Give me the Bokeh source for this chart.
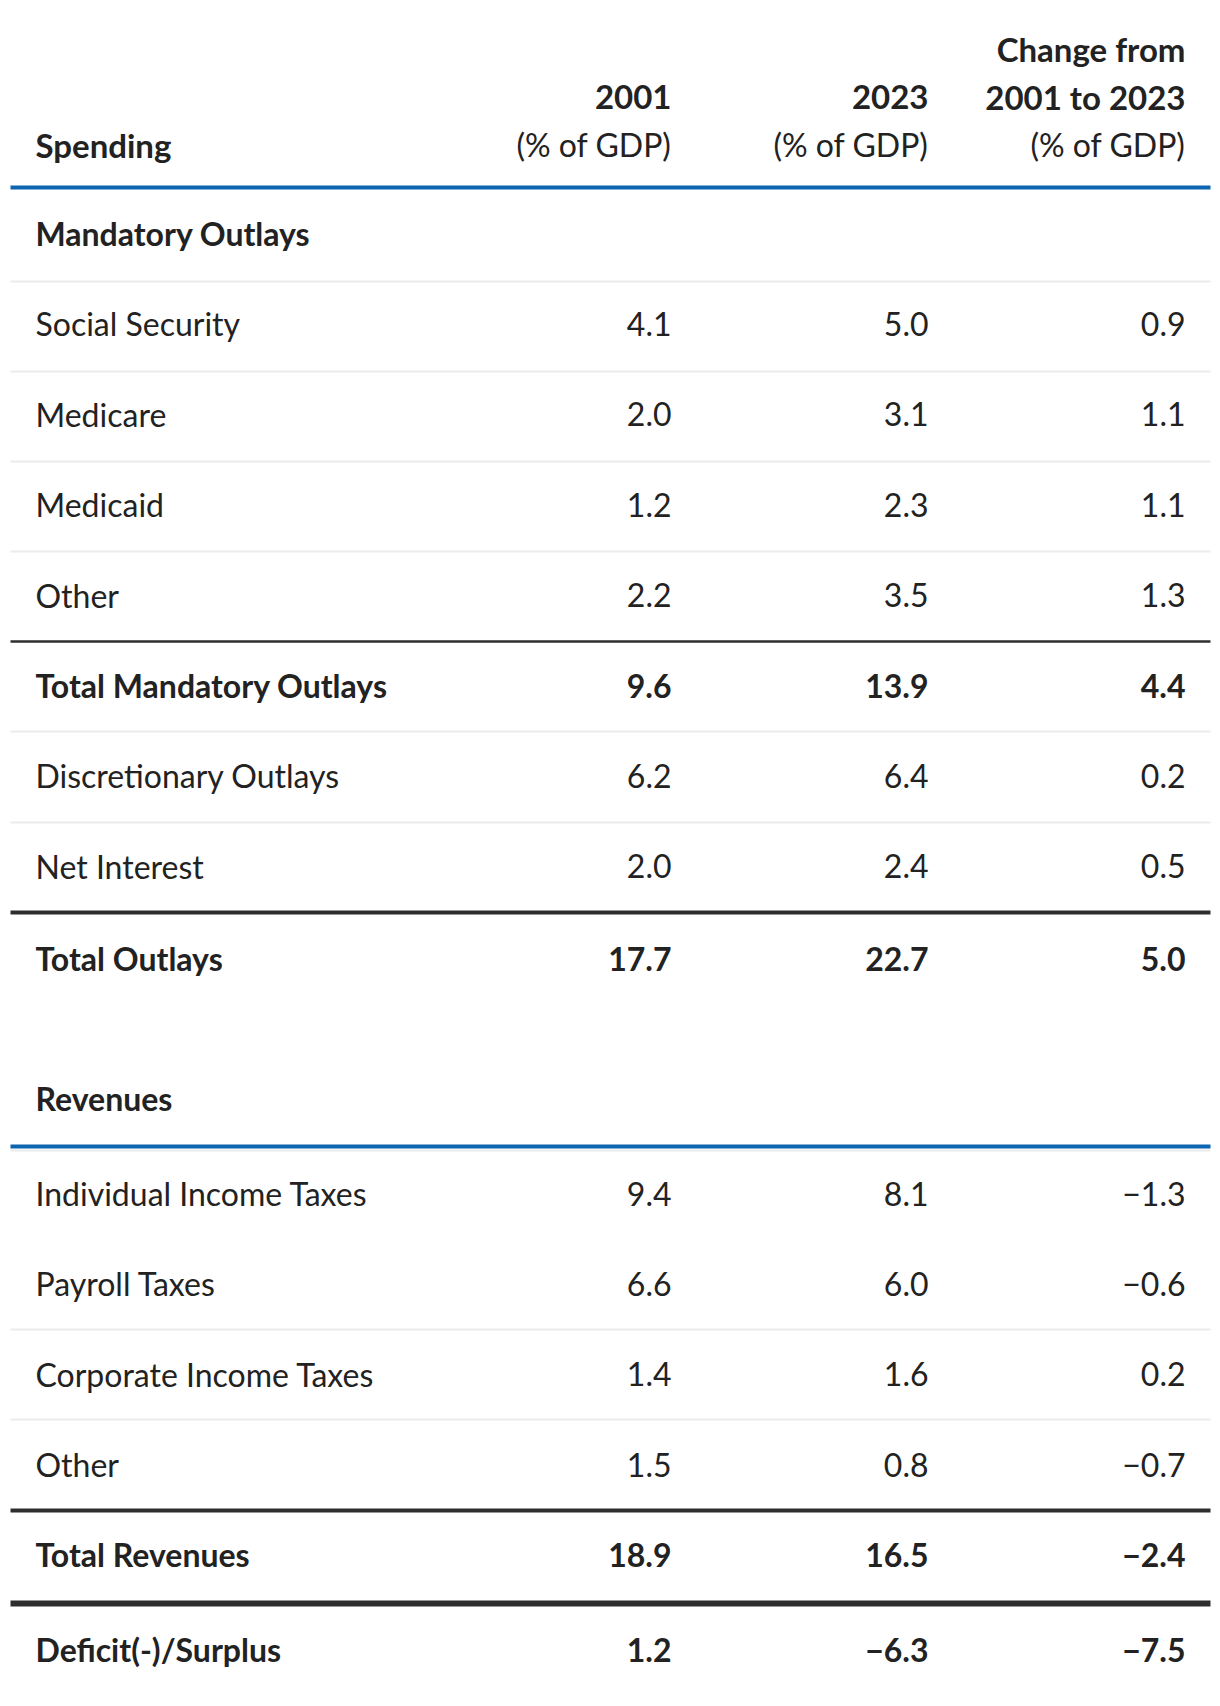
from bokeh.plotting import figure
from bokeh.models import Range1d, ColumnDataSource
from bokeh.core.properties import value
from bokeh.embed import file_html
from bokeh.resources import INLINE

# ---------------- data ----------------
header_cols = [["2001", "(% of GDP)"], ["2023", "(% of GDP)"], ["Change from", "2001 to 2023", "(% of GDP)"]]

spending_labels = ["Social Security", "Medicare", "Medicaid", "Other"]
spending_2001 = [4.1, 2.0, 1.2, 2.2]
spending_2023 = [5.0, 3.1, 2.3, 3.5]
spending_change = [0.9, 1.1, 1.1, 1.3]

total_mandatory = ["Total Mandatory Outlays", 9.6, 13.9, 4.4]
other_outlay_labels = ["Discretionary Outlays", "Net Interest"]
other_outlay_2001 = [6.2, 2.0]
other_outlay_2023 = [6.4, 2.4]
other_outlay_change = [0.2, 0.5]
total_outlays = ["Total Outlays", 17.7, 22.7, 5.0]

revenue_labels = ["Individual Income Taxes", "Payroll Taxes", "Corporate Income Taxes", "Other"]
revenue_2001 = [9.4, 6.6, 1.4, 1.5]
revenue_2023 = [8.1, 6.0, 1.6, 0.8]
revenue_change = [-1.3, -0.6, 0.2, -0.7]
total_revenues = ["Total Revenues", 18.9, 16.5, -2.4]
deficit = ["Deficit(-)/Surplus", 1.2, -6.3, -7.5]

# ---------------- layout ----------------
W, H = 1212, 1698
FONT = "Lato"
FS = "32px"
FS_HEAD = "33px"
TXT = "#222222"
BLUE = "#0d64b0"
DARK = "#2e2e2e"
GREY = "#ebebeb"

X_LEFT = 35
X_COLS = [671, 928, 1185]
X0, X1 = 10, 1210
ROW_H = 90.4
DY = -2  # text baseline nudge


def fmt(v):
    return ("%.1f" % v).replace("-", "\u2212")


p = figure(width=W, height=H, output_backend="svg", toolbar_location=None,
           x_range=Range1d(0, W), y_range=Range1d(H, 0),
           min_border=0, outline_line_color=None)
p.xaxis.visible = False
p.yaxis.visible = False
p.grid.visible = False
p.background_fill_color = "white"
p.border_fill_color = "white"

rows = []  # (label, v1, v2, v3, bold, y)
y_mand = 235
rows.append(("Mandatory Outlays", None, None, None, True, y_mand))
y = y_mand + ROW_H
for i, lab in enumerate(spending_labels):
    rows.append((lab, spending_2001[i], spending_2023[i], spending_change[i], False, y))
    y += ROW_H
rows.append((total_mandatory[0], *total_mandatory[1:], True, y)); y += ROW_H
for i, lab in enumerate(other_outlay_labels):
    rows.append((lab, other_outlay_2001[i], other_outlay_2023[i], other_outlay_change[i], False, y))
    y += ROW_H
y_total_out = y + 2
rows.append((total_outlays[0], *total_outlays[1:], True, y_total_out))

y_rev = 1100
rows.append(("Revenues", None, None, None, True, y_rev))
y = 1195
for i, lab in enumerate(revenue_labels):
    rows.append((lab, revenue_2001[i], revenue_2023[i], revenue_change[i], False, y))
    y += ROW_H
rows.append((total_revenues[0], *total_revenues[1:], True, 1556))
rows.append((deficit[0], *deficit[1:], True, 1651))

for bold in (False, True):
    sel = [r for r in rows if r[4] == bold]
    src = ColumnDataSource(dict(x=[X_LEFT] * len(sel), y=[r[5] + DY for r in sel], t=[r[0] for r in sel]))
    p.text(x="x", y="y", text="t", source=src, text_font=value(FONT), text_font_size=FS,
           text_font_style="bold" if bold else "normal", text_color=TXT,
           text_align="left", text_baseline="middle")
    for ci in range(3):
        vs = [r for r in sel if r[1] is not None]
        src = ColumnDataSource(dict(x=[X_COLS[ci]] * len(vs), y=[r[5] + DY for r in vs],
                                    t=[fmt(r[1 + ci]) for r in vs]))
        p.text(x="x", y="y", text="t", source=src, text_font=value(FONT), text_font_size=FS,
               text_font_style="bold" if bold else "normal", text_color=TXT,
               text_align="right", text_baseline="middle")

# header
LINE_Y = [48, 96, 144]
p.text(x=[X_LEFT], y=[LINE_Y[-1]], text=["Spending"], text_font=value(FONT), text_font_size=FS_HEAD,
       text_font_style="bold", text_color=TXT, text_align="left", text_baseline="middle")
for ci, lines in enumerate(header_cols):
    ys = LINE_Y[-len(lines):]
    for t, yy in zip(lines, ys):
        reg = t.startswith("(")
        p.text(x=[X_COLS[ci]], y=[yy], text=[t], text_font=value(FONT),
               text_font_size=FS if reg else FS_HEAD,
               text_font_style="normal" if reg else "bold", text_color=TXT,
               text_align="right", text_baseline="middle")

# rules
def rule(yy, color, w):
    p.segment(x0=[X0], x1=[X1], y0=[yy], y1=[yy], line_color=color, line_width=w)

rule(187, BLUE, 4)
for yy in [281, 371, 461, 551, 731, 822]:
    rule(yy, GREY, 2)
rule(641, DARK, 2.5)
rule(912, DARK, 4)
rule(1150, GREY, 2)
rule(1146, BLUE, 4)
for yy in [1329, 1419]:
    rule(yy, GREY, 2)
rule(1510, DARK, 4)
rule(1603, DARK, 6)

open("out.html", "w").write(file_html(p, INLINE))
